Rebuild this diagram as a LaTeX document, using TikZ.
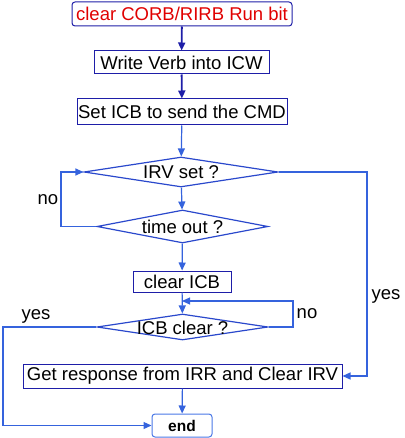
\documentclass[tikz,border=0pt]{standalone}
\usepackage{fontspec}
\setmainfont{Liberation Sans}
\usetikzlibrary{arrows.meta,shapes.geometric}
\definecolor{boxblue}{HTML}{1E1EA8}
\definecolor{linkblue}{HTML}{3563DD}
\definecolor{endblue}{HTML}{4A78E6}
\definecolor{diablue}{HTML}{2A48CC}
\definecolor{titlered}{HTML}{E00000}
\tikzset{
  base/.style={font=\fontsize{18.5}{20}\selectfont, inner sep=0pt},
  procbox/.style={base, draw=boxblue, line width=1pt, rectangle},
  dia/.style={draw=diablue, line width=1.2pt, diamond, inner sep=0pt},
  txt/.style={base},
  link/.style={draw=linkblue, line width=1.2pt, -{Triangle[length=8pt,width=7pt]}},
  darklink/.style={draw=boxblue, line width=1.8pt, -{Triangle[length=8pt,width=7pt]}},
}
\begin{document}
\begin{tikzpicture}[x=1pt,y=-1pt]
\useasboundingbox (0,0) rectangle (404,438);
\node[procbox, rounded corners=3pt, minimum width=220, minimum height=24, text=titlered] (n1) at (182,14) {clear CORB/RIRB Run bit};
\node[procbox, minimum width=175, minimum height=23] (n2) at (181.5,62.5) {Write Verb into ICW};
\node[procbox, minimum width=210, minimum height=26] (n3) at (182,112) {Set ICB to send the CMD};
\node[dia, minimum width=194, minimum height=30] (d1) at (181,172) {};
\node[txt] (t1) at (181,172) {IRV set ?};
\node[dia, minimum width=171, minimum height=33] (d2) at (182.5,226.5) {};
\node[txt] (t2) at (182.5,226.5) {time out ?};
\node[procbox, minimum width=98, minimum height=21] (n4) at (182,281.5) {clear ICB};
\node[dia, minimum width=171, minimum height=26] (d3) at (182.5,327) {};
\node[txt] (t3) at (182.5,328) {ICB clear ?};
\node[procbox, minimum width=319, minimum height=24] (n5) at (182.5,376) {Get response from IRR and Clear IRV};
\node[procbox, draw=endblue, rounded corners=3pt, minimum width=60, minimum height=23, font=\fontsize{15.5}{17}\selectfont\bfseries] (n6) at (182,425.5) {end};

\node[txt] (lno1) at (48,200) {no};
\node[txt] (lno2) at (307,314) {no};
\node[txt] (lyes1) at (36,316) {yes};
\node[txt] (lyes2) at (386,296) {yes};

\coordinate (j) at (182,301);

\draw[darklink] (n1) -- (n2);
\draw[darklink] (n2) -- (n3);
\draw[link] (n3) -- (d1);
\draw[link] (d1) -- (d2);
\draw[link] (d2.west) -- (61,226.5) -- (61,172) -- (d1.west);
\draw[link] (d2) -- (n4);
\draw[link] (n4) -- (d3);
\draw[link] (d3.east) -- (293,327) -- (293,301) -- (j);
\draw[link] (d3.west) -- (3,327) -- (3,425.5) -- (n6.west);
\draw[link] (d1.east) -- (367,172) -- (367,376) -- (n5.east);
\draw[link] (n5) -- (n6);
\end{tikzpicture}
\end{document}
